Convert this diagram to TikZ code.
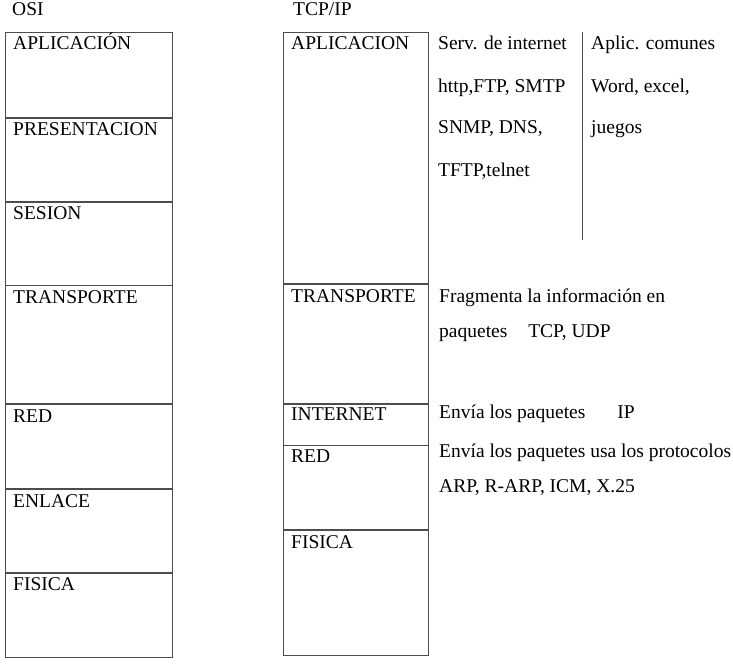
\documentclass[tikz,border=0pt]{standalone}
\usepackage{fontspec}
\setmainfont{Liberation Serif}
\usetikzlibrary{positioning}

\tikzset{
	capa/.style={draw=black!70, line width=0.8pt, anchor=north west, inner sep=0pt},
	nombre/.style={anchor=base west, inner sep=0pt, font=\fontsize{19.5}{23}\selectfont},
	nota/.style={anchor=base west, inner sep=0pt, font=\fontsize{19.5}{23}\selectfont},
	linea/.style={draw=black!70, line width=0.8pt}
}

\begin{document}
\begin{tikzpicture}[x=1pt, y=-1pt]
		\clip (0,0) rectangle (733,666);
		% titulos
		\node [nombre] (osi) at (12,16) {OSI};
		\node [nombre] (tcp) at (293,16) {TCP/IP};
		% modelo OSI
		\node [capa, minimum width=167pt, minimum height=85pt] (O1) at (5,32) {};
		\node [capa, minimum width=167pt, minimum height=83pt] (O2) at (O1.south west) {};
		\node [capa, minimum width=167pt, minimum height=83pt] (O3) at (O2.south west) {};
		\node [capa, minimum width=167pt, minimum height=118pt] (O4) at (O3.south west) {};
		\node [capa, minimum width=167pt, minimum height=84pt] (O5) at (O4.south west) {};
		\node [capa, minimum width=167pt, minimum height=83pt] (O6) at (O5.south west) {};
		\node [capa, minimum width=167pt, minimum height=84pt] (O7) at (O6.south west) {};
		\node [nombre] (LO1) at ([shift={(8,18)}]O1.north west) {APLICACIÓN};
		\node [nombre] (LO2) at ([shift={(8,18)}]O2.north west) {PRESENTACION};
		\node [nombre] (LO3) at ([shift={(8,18)}]O3.north west) {SESION};
		\node [nombre] (LO4) at ([shift={(8,18)}]O4.north west) {TRANSPORTE};
		\node [nombre] (LO5) at ([shift={(8,18)}]O5.north west) {RED};
		\node [nombre] (LO6) at ([shift={(8,18)}]O6.north west) {ENLACE};
		\node [nombre] (LO7) at ([shift={(8,18)}]O7.north west) {FISICA};
		% modelo TCP/IP
		\node [capa, minimum width=145pt, minimum height=251pt] (T1) at (283,32) {};
		\node [capa, minimum width=145pt, minimum height=119pt] (T2) at (T1.south west) {};
		\node [capa, minimum width=145pt, minimum height=41pt] (T3) at (T2.south west) {};
		\node [capa, minimum width=145pt, minimum height=84pt] (T4) at (T3.south west) {};
		\node [capa, minimum width=145pt, minimum height=125pt] (T5) at (T4.south west) {};
		\node [nombre] (LT1) at ([shift={(8,18)}]T1.north west) {APLICACION};
		\node [nombre] (LT2) at ([shift={(8,19)}]T2.north west) {TRANSPORTE};
		\node [nombre] (LT3) at ([shift={(8,17)}]T3.north west) {INTERNET};
		\node [nombre] (LT4) at ([shift={(8,17)}]T4.north west) {RED};
		\node [nombre] (LT5) at ([shift={(8,18)}]T5.north west) {FISICA};
		% protocolos de aplicacion
		\node [nota] (S1) at (438,50) {Serv. de internet};
		\node [nota] (S2) at (438,93) {http,FTP, SMTP};
		\node [nota] (S3) at (438,133) {SNMP, DNS,};
		\node [nota] (S4) at (438,176) {TFTP,telnet};
		\coordinate (D1) at (582,32);
		\coordinate (D2) at (582,240);
		\draw [linea] (D1) -- (D2);
		\node [nota] (A1) at (591,50) {Aplic. comunes};
		\node [nota] (A2) at (591,93) {Word, excel,};
		\node [nota] (A3) at (591,133) {juegos};
		% transporte, internet, red
		\node [nota] (F1) at (439,302) {Fragmenta la información en};
		\node [nota] (F2) at (439,337) {paquetes\hspace*{16pt} TCP, UDP};
		\node [nota] (E1) at (439,418) {Envía los paquetes\hspace*{27pt} IP};
		\node [nota] (R1) at (439,457) {Envía los paquetes usa los protocolos};
		\node [nota] (R2) at (439,492) {ARP, R-ARP, ICM, X.25};
	\end{tikzpicture}
\end{document}
